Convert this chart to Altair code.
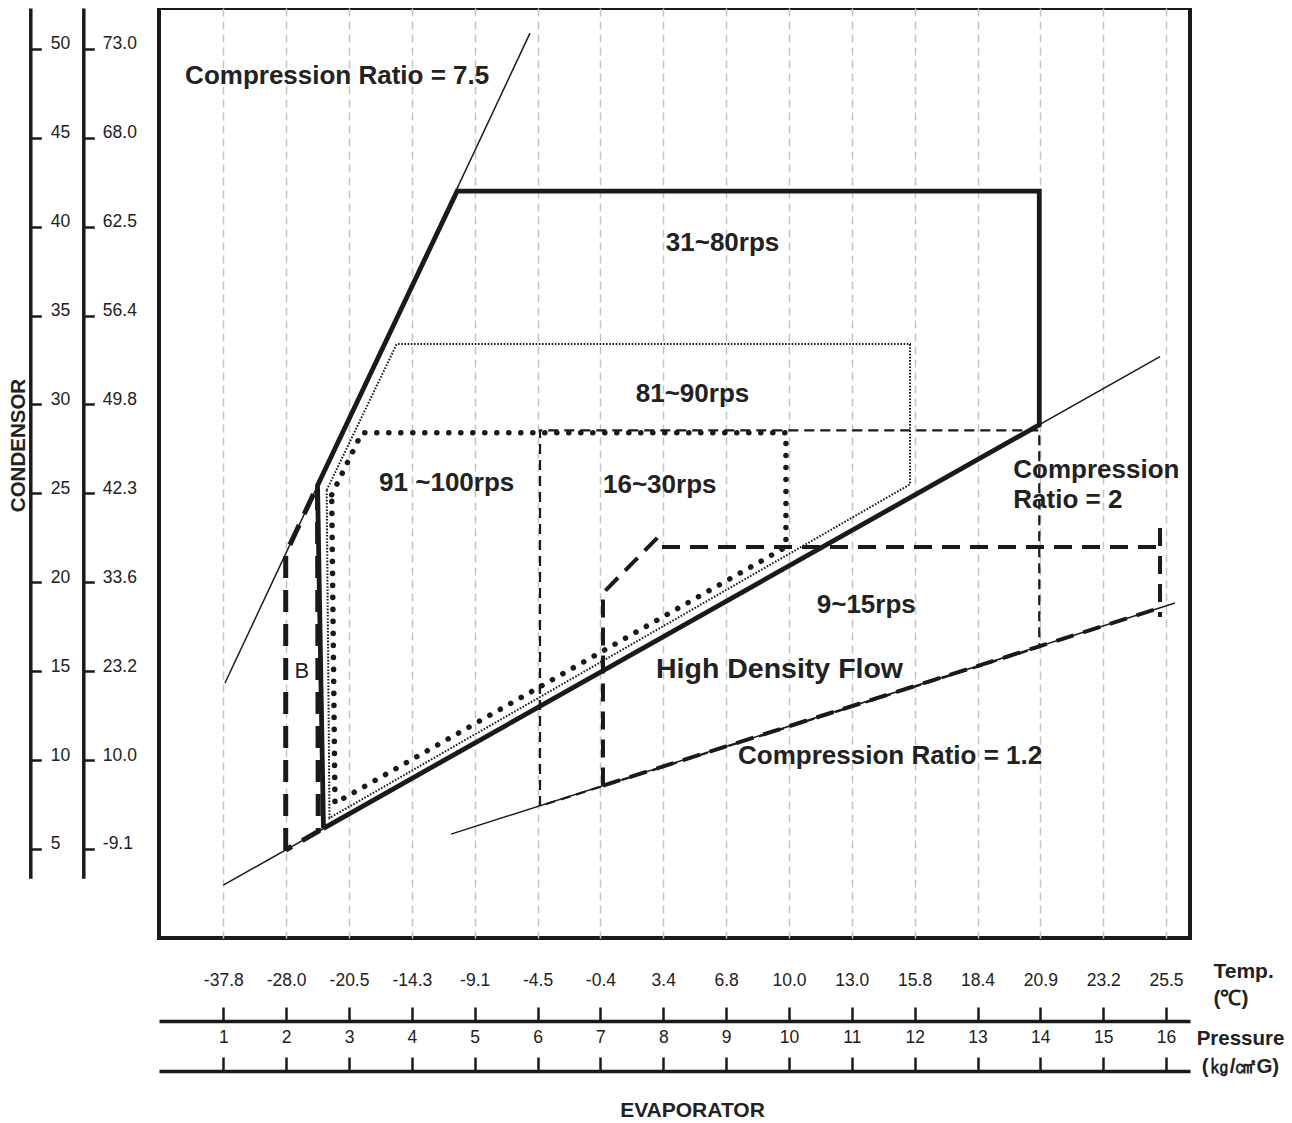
import altair as alt
import pandas as pd

# ---------------- tick labels ----------------
pressure_ticks = list(range(1, 17))
temp_labels = ['-37.8', '-28.0', '-20.5', '-14.3', '-9.1', '-4.5', '-0.4', '3.4',
               '6.8', '10.0', '13.0', '15.8', '18.4', '20.9', '23.2', '25.5']
cond_ticks = [5, 10, 15, 20, 25, 30, 35, 40, 45, 50]
cond_press_labels = ['-9.1', '10.0', '23.2', '33.6', '42.3', '49.8', '56.4', '62.5', '68.0', '73.0']

# ---------------- lines (x = evaporator, y = condensor) ----------------
ratio_75 = [(1.027, 14.34), (5.880, 50.89)]
ratio_2 = [(1.0, 2.975), (15.904, 32.69)]
ratio_12 = [(4.623, 5.84), (16.143, 18.84)]

rps_31_80 = [(2.594, 6.17), (2.499, 25.45), (4.72, 42.0), (13.983, 42.0), (13.983, 28.86), (2.594, 6.17)]
rps_81_90 = [(2.645, 25.19), (3.759, 33.4), (11.926, 33.4), (11.926, 25.51), (2.69, 6.75), (2.645, 25.19)]
rps_91_100 = [(2.725, 24.92), (3.206, 28.42), (9.952, 28.42), (9.952, 21.99), (2.777, 7.58), (2.725, 24.92)]
rps_16_30 = [(6.039, 7.42), (6.039, 28.55), (13.983, 28.55), (13.983, 16.36), (6.039, 7.42)]
rps_9_15_a = [(7.041, 8.57), (7.041, 19.4), (7.98, 22.77)]
rps_9_15_b = [(7.98, 21.99), (15.904, 21.99)]
rps_9_15_c = [(15.904, 23.05), (15.904, 18.05)]
rps_9_15_d = [(7.041, 8.57), (15.904, 18.57)]
region_b = [(1.993, 4.95), (1.993, 21.6), (2.499, 25.45), (2.511, 6.0), (1.993, 4.95)]

# ---------------- annotations ----------------
label_text = ['Compression Ratio = 7.5', '31~80rps', '81~90rps', '91 ~100rps',
              '16~30rps', '9~15rps', 'Compression Ratio = 1.2']
label_x = [2.812, 8.943, 8.465, 4.554, 7.944, 11.23, 11.61]
label_y = [48.48, 39.08, 30.59, 25.57, 25.47, 18.72, 10.23]
hdf_text = ['High Density Flow']
hdf_x = [9.85]
hdf_y = [15.12]
ratio2_text = ['Compression', 'Ratio = 2']
ratio2_x = [13.57, 13.57]
ratio2_y = [26.32, 24.63]
b_text = ['B']
b_x = [2.25]
b_y = [15.03]

FONT = 'Liberation Sans'
INK = '#222222'

X0, X1 = -0.0231, 16.381
Y0, Y1 = 0.0, 52.30
xs = alt.Scale(domain=[X0, X1], nice=False, zero=False)
ys = alt.Scale(domain=[Y0, Y1], nice=False, zero=False)


def segs_df(segs):
    rows = []
    for s, pts in enumerate(segs):
        for i, (x, y) in enumerate(pts):
            rows.append({'x': x, 'y': y, 'seg': s, 'i': i})
    return pd.DataFrame(rows)


def line_layer(segs, **mark):
    return alt.Chart(segs_df(segs)).mark_line(color='#1a1a1a', **mark).encode(
        x=alt.X('x:Q', scale=xs, axis=None),
        y=alt.Y('y:Q', scale=ys, axis=None),
        detail='seg:N',
        order='i:Q')


def text_layer(texts, xv, yv, size, weight='bold', align='center'):
    df = pd.DataFrame({'x': xv, 'y': yv, 't': texts})
    return alt.Chart(df).mark_text(font=FONT, fontSize=size, fontWeight=weight, color=INK,
                                   align=align, baseline='middle').encode(
        x=alt.X('x:Q', scale=xs, axis=None),
        y=alt.Y('y:Q', scale=ys, axis=None),
        text='t:N')


grid_style = dict(grid=True, labels=False, ticks=False, domain=False, title=None,
                  gridDash=[8, 5], gridColor='#c4c4c4', gridWidth=1.5)

thin = alt.Chart(segs_df([ratio_75, ratio_2, ratio_12])).mark_line(
    color='#1a1a1a', strokeWidth=1.5).encode(
    x=alt.X('x:Q', scale=xs, axis=alt.Axis(values=pressure_ticks, **grid_style)),
    y=alt.Y('y:Q', scale=ys, axis=alt.Axis(values=cond_ticks, **grid_style)),
    detail='seg:N', order='i:Q')

l_31 = line_layer([rps_31_80], strokeWidth=4.8, strokeJoin='miter')
l_81 = line_layer([rps_81_90], strokeWidth=2, strokeDash=[1.6, 1.6])
l_91 = line_layer([rps_91_100], strokeWidth=5.5, strokeDash=[0.1, 11.9], strokeCap='round')
l_16 = line_layer([rps_16_30], strokeWidth=2.2, strokeDash=[10, 6])
l_9 = line_layer([rps_9_15_a, rps_9_15_b, rps_9_15_c, rps_9_15_d], strokeWidth=4, strokeDash=[18, 10])
l_b = line_layer([region_b], strokeWidth=5, strokeDash=[22, 12])

t_main = text_layer(label_text, label_x, label_y, 26)
t_hdf = text_layer(hdf_text, hdf_x, hdf_y, 28.5)
t_r2 = text_layer(ratio2_text, ratio2_x, ratio2_y, 26, align='left')
t_b = text_layer(b_text, b_x, b_y, 22, weight='normal')

# ---------------- bottom axes ----------------
tick_df = pd.DataFrame({'p': pressure_ticks, 't': temp_labels})
temp_expr = '[' + ','.join("'%s'" % t for t in temp_labels) + '][datum.value - 1]'

common_bottom = dict(domainColor='#1a1a1a', domainWidth=3.5, tickColor='#1a1a1a', tickWidth=2.5,
                     tickSize=14, labelFont=FONT, labelFontSize=17.5, labelColor=INK,
                     labelBaseline='alphabetic', grid=False, titleFont=FONT,
                     titleFontWeight='bold', titleColor=INK, titleBaseline='alphabetic', titleAngle=0)

temp_axis = alt.Chart(tick_df).mark_point(opacity=0).encode(
    x=alt.X('p:Q', scale=xs, axis=alt.Axis(
        orient='top', offset=-1013, values=pressure_ticks, labelExpr=temp_expr,
        labelPadding=21.5, title=['Temp.', '(\u2103)'], titleX=1054, titleY=-44,
        titleAlign='left', titleLineHeight=27, titleFontSize=21, **common_bottom)))

press_axis = alt.Chart(tick_df).mark_point(opacity=0).encode(
    x=alt.X('p:Q', scale=xs, axis=alt.Axis(
        orient='top', offset=-1063, values=pressure_ticks, format='d',
        labelPadding=14.5, title=['Pressure', '(\u338f/\u33a0G)'], titleX=1081, titleY=-27,
        titleAlign='center', titleLineHeight=28, titleFontSize=20.5, **common_bottom)))

evap_axis = alt.Chart(tick_df).mark_point(opacity=0).encode(
    x=alt.X('p:Q', scale=xs, axis=alt.Axis(
        orient='bottom', labels=False, ticks=False, domain=False, grid=False,
        title='EVAPORATOR', titleX=533, titleY=178.7, titleAlign='center',
        titleBaseline='alphabetic', titleFont=FONT, titleFontSize=21,
        titleFontWeight='bold', titleColor=INK)))

# ---------------- left axes ----------------
cond_df = pd.DataFrame({'c': cond_ticks, 'p': cond_press_labels})
ys_left = alt.Scale(domain=[3.352, 52.30], range=[870.3, 0], nice=False, zero=False)
press_expr = '[' + ','.join("'%s'" % t for t in cond_press_labels) + '][datum.value / 5 - 1]'

common_left = dict(domainColor='#1a1a1a', domainWidth=3.5, tickColor='#1a1a1a', tickWidth=2.5,
                   tickSize=11, labelFont=FONT, labelFontSize=17.5, labelColor=INK,
                   labelAlign='left', labelBaseline='alphabetic', grid=False, values=cond_ticks)

axis_a = alt.Chart(cond_df).mark_point(opacity=0).encode(
    y=alt.Y('c:Q', scale=ys_left, axis=alt.Axis(
        orient='right', offset=-1159.7, format='d', labelPadding=9,
        title='CONDENSOR', titleX=-11.8, titleY=437, titleAngle=270, titleAlign='center',
        titleBaseline='middle', titleFont=FONT, titleFontSize=20.5, titleFontWeight='bold',
        titleColor=INK, **common_left)))

axis_b = alt.Chart(cond_df).mark_point(opacity=0).encode(
    y=alt.Y('c:Q', scale=ys_left, axis=alt.Axis(
        orient='right', offset=-1106.7, labelExpr=press_expr, labelPadding=8,
        title=None, **common_left)))

main = alt.layer(thin, l_16, l_9, l_b, l_81, l_91, l_31,
                 t_main, t_hdf, t_r2, t_b,
                 temp_axis, press_axis, evap_axis).resolve_axis(x='independent')

chart = alt.layer(main, axis_a, axis_b).resolve_scale(y='independent').properties(
    width=1031, height=930,
    padding={'left': 151, 'top': 0, 'right': 94, 'bottom': 183},
    autosize=alt.AutoSizeParams(type='none'),
    background='white'
).configure_view(stroke='#1a1a1a', strokeWidth=4)

chart.save('out.html', embed_options={'renderer': 'svg', 'actions': False})
